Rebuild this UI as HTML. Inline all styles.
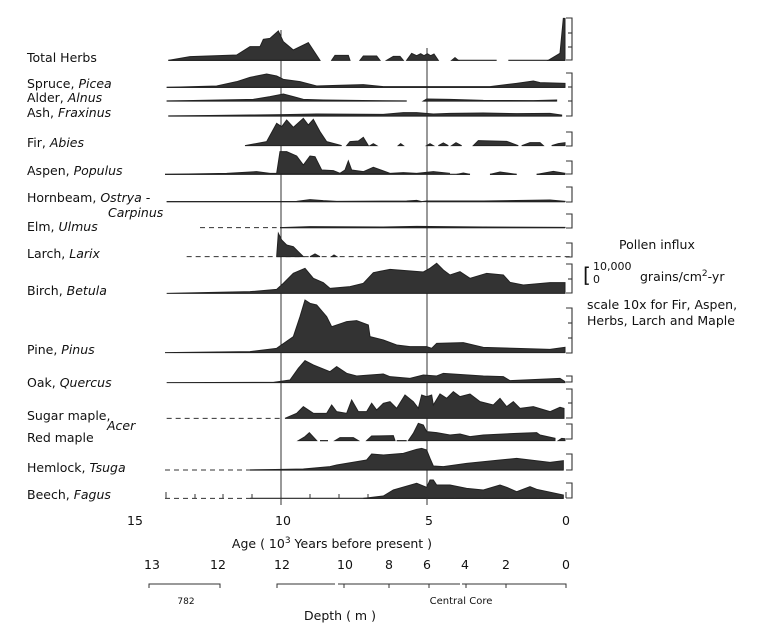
<!DOCTYPE html>
<html><head><meta charset="utf-8"><style>
body{margin:0;background:#fff;}
svg{display:block;font-family:"DejaVu Sans","Liberation Sans",sans-serif;}
text{fill:#111;font-size:12.5px;}
.f{fill:#333;stroke:#222;stroke-width:1;vector-effect:non-scaling-stroke;}
.l{stroke:#222;stroke-width:1.2;fill:none;vector-effect:non-scaling-stroke;}
.d{stroke:#333;stroke-width:1;fill:none;stroke-dasharray:5 4;vector-effect:non-scaling-stroke;}
</style></head><body>
<svg width="760" height="630" viewBox="0 0 760 630">
<rect width="760" height="630" fill="#fff"/>
<line x1="281" y1="30" x2="281" y2="500" stroke="#333" stroke-width="1"/>
<line x1="427" y1="48" x2="427" y2="500" stroke="#333" stroke-width="1"/>
<g transform="translate(150,0) scale(0.33333)">
<polygon class="f" points="55,181 120,170 260,165 300,140 330,140 340,118 360,115 385,93 400,125 430,150 475,128 510,181"/>
<polygon class="f" points="545,181 555,166 595,166 600,181"/>
<polygon class="f" points="630,181 640,168 680,168 690,181"/>
<polygon class="f" points="710,181 730,169 750,169 760,181"/>
<polygon class="f" points="770,181 785,160 800,167 812,161 822,167 832,161 842,167 852,162 865,181"/>
<polygon class="f" points="905,181 915,173 925,181"/>
<polygon class="f" points="1195,181 1230,160 1240,55 1245,55 1245,181"/>
<polyline class="l" points="55,181 510,181"/><polyline class="l" points="910,181 1040,181"/><polyline class="l" points="1075,181 1245,181"/>
<polygon class="f" points="50,262 200,258 260,245 300,232 350,222 380,228 400,238 450,245 500,258 560,256 640,254 700,260 1020,260 1100,250 1150,243 1170,248 1245,250 1245,262"/>
<polyline class="l" points="50,262 1245,262"/>
<polygon class="f" points="50,303 310,298 360,290 400,282 430,290 460,298 520,300 770,303"/>
<polygon class="f" points="820,303 830,297 900,298 1000,301 1150,302 1220,300 1220,303"/>
<polyline class="l" points="50,303 770,303"/><polyline class="l" points="820,303 1220,303"/>
<polygon class="f" points="55,348 300,345 400,344 500,342 700,343 760,338 800,338 850,342 900,340 1000,339 1100,341 1200,340 1235,345 1235,348"/>
<polyline class="l" points="55,348 1235,348"/>
<polygon class="f" points="285,437 350,425 380,370 395,380 410,360 430,382 460,355 475,375 490,358 510,395 530,425 575,437"/>
<polygon class="f" points="590,437 600,425 625,423 640,412 655,437"/>
<polygon class="f" points="660,437 670,431 680,437"/>
<polygon class="f" points="745,437 752,431 760,437"/>
<polygon class="f" points="830,437 840,431 850,437"/>
<polygon class="f" points="865,437 880,429 895,437"/>
<polygon class="f" points="905,437 918,428 935,437"/>
<polygon class="f" points="970,437 985,422 1070,424 1105,437"/>
<polygon class="f" points="1115,437 1140,428 1170,428 1180,437"/>
<polygon class="f" points="1205,437 1225,431 1245,428 1245,437"/>
<polygon class="f" points="45,523 230,520 320,515 360,520 380,520 390,455 410,455 440,468 460,495 480,468 495,470 515,510 550,512 570,520 585,510 595,483 605,510 640,515 670,502 720,520 760,518 800,520 850,515 900,520"/>
<polygon class="f" points="920,523 940,519 960,523"/>
<polygon class="f" points="1020,523 1050,516 1100,523"/>
<polygon class="f" points="1160,523 1210,514 1245,520 1245,523"/>
<polyline class="l" points="45,523 960,523"/><polyline class="l" points="1020,523 1100,523"/><polyline class="l" points="1160,523 1245,523"/>
<polygon class="f" points="50,605 440,604 480,599 520,602 560,604 770,603 800,601 815,605 830,603 1000,603 1200,600 1245,604 1245,605"/>
<polyline class="l" points="50,605 815,605"/><polyline class="l" points="830,605 1245,605"/>
<line class="d" x1="150" y1="683" x2="380" y2="683"/>
<polygon class="f" points="390,683 480,680 700,681 800,679 1000,681 1245,682 1245,683"/>
<polyline class="l" points="390,683 1245,683"/>
</g>
<g transform="translate(150,250) scale(0.33333)">
<line class="d" x1="110" y1="20" x2="1260" y2="20"/>
<polygon class="f" points="380,20 385,-50 395,-30 410,-15 430,-10 445,5 460,20"/>
<polygon class="f" points="480,20 495,12 510,20"/>
<polygon class="f" points="545,20 552,15 560,20"/>
<polygon class="f" points="50,130 300,125 380,118 400,100 430,70 465,55 490,85 520,98 540,115 600,110 640,100 670,68 720,58 820,66 840,55 860,40 880,60 900,75 930,65 960,85 1010,70 1060,75 1080,97 1120,105 1200,98 1245,98 1245,130"/>
<polygon class="f" points="45,308 300,305 380,295 430,260 450,200 465,150 480,160 500,165 530,200 545,230 575,220 590,215 620,212 655,225 660,260 700,270 740,285 780,290 830,290 845,295 860,280 940,278 1000,292 1100,295 1200,298 1245,292 1245,308"/>
<polygon class="f" points="50,398 370,397 420,390 445,355 465,332 490,345 540,365 560,350 590,370 620,378 660,375 700,372 720,380 780,385 820,375 860,378 880,370 1000,378 1060,380 1080,392 1230,385 1245,395 1245,398"/>
<line class="d" x1="50" y1="505" x2="395" y2="505"/>
<polygon class="f" points="405,505 440,490 460,470 490,490 530,490 545,465 560,485 590,490 605,450 625,485 650,485 665,460 680,480 700,460 720,455 740,475 765,435 790,455 805,475 815,435 830,440 845,435 850,465 870,432 890,445 910,425 930,440 960,432 990,455 1030,465 1050,445 1070,470 1090,455 1110,475 1150,470 1200,485 1230,472 1242,475 1242,505"/>
<polygon class="f" points="445,572 465,560 478,548 500,572"/>
<line class="l" x1="510" y1="572" x2="545" y2="572" stroke-dasharray="8 8"/>
<polygon class="f" points="555,572 570,563 610,563 625,572"/>
<polygon class="f" points="650,572 665,558 730,557 735,572"/>
<line class="l" x1="740" y1="572" x2="770" y2="572"/>
<polygon class="f" points="775,572 790,550 805,520 820,525 830,545 860,548 900,555 930,552 960,560 1000,555 1100,550 1160,548 1170,555 1215,565 1215,572"/>
<polygon class="f" points="1225,572 1235,565 1245,566 1245,572"/>
<line class="d" x1="45" y1="660" x2="300" y2="660"/>
<polygon class="f" points="300,660 460,657 540,650 560,645 650,630 665,612 700,615 760,610 800,598 815,595 830,600 840,625 850,648 880,650 950,640 1050,630 1100,625 1200,637 1240,632 1240,660"/>
<polyline class="l" points="300,660 1240,660"/>
<line class="d" x1="45" y1="745" x2="300" y2="745"/>
<polygon class="f" points="640,745 700,738 730,720 800,700 830,712 840,690 850,690 860,705 900,705 950,715 1000,720 1050,705 1070,712 1100,725 1140,710 1160,718 1240,735 1240,745"/>
<polyline class="l" points="300,745 1240,745"/>
</g>
<g stroke="#333" stroke-width="1">
<line x1="166" y1="498" x2="166" y2="492"/><line x1="195" y1="498" x2="195" y2="494"/><line x1="223" y1="498" x2="223" y2="494"/><line x1="252" y1="498" x2="252" y2="494"/><line x1="281" y1="498" x2="281" y2="505"/>
<line x1="310" y1="498" x2="310" y2="494"/><line x1="339" y1="498" x2="339" y2="494"/><line x1="368" y1="498" x2="368" y2="494"/><line x1="397" y1="498" x2="397" y2="494"/><line x1="427" y1="498" x2="427" y2="505"/>
<line x1="455" y1="498" x2="455" y2="494"/><line x1="482" y1="498" x2="482" y2="494"/><line x1="510" y1="498" x2="510" y2="494"/><line x1="538" y1="498" x2="538" y2="494"/><line x1="566" y1="498" x2="566" y2="492"/>
</g>
<g stroke="#333" stroke-width="1.1" fill="none">
<polyline points="566,18 572,18 572,60 566,60"/><line x1="572" y1="33" x2="568" y2="33"/><line x1="572" y1="47" x2="568" y2="47"/>
<polyline points="566,73 572,73 572,116 566,116"/><line x1="572" y1="87" x2="568" y2="87"/><line x1="572" y1="101" x2="568" y2="101"/>
<polyline points="566,132 572,132 572,146 566,146"/>
<polyline points="566,161 572,161 572,174 566,174"/>
<polyline points="566,187 572,187 572,202 566,202"/>
<polyline points="566,214 572,214 572,228 566,228"/>
<polyline points="566,243 572,243 572,257 566,257"/>
<polyline points="566,264 572,264 572,293 566,293"/><line x1="572" y1="279" x2="568" y2="279"/>
<polyline points="566,308 572,308 572,353 566,353"/><line x1="572" y1="323" x2="568" y2="323"/><line x1="572" y1="338" x2="568" y2="338"/>
<polyline points="566,376 572,376 572,382 566,382"/>
<polyline points="566,389 572,389 572,418 566,418"/><line x1="572" y1="403" x2="568" y2="403"/>
<polyline points="566,424 572,424 572,439 566,439"/>
<polyline points="566,454 572,454 572,470 566,470"/>
<polyline points="566,483 572,483 572,498 566,498"/>
</g>
<g>
<text x="27" y="62">Total Herbs</text>
<text x="27" y="88">Spruce, <tspan font-style="italic">Picea</tspan></text>
<text x="27" y="102">Alder, <tspan font-style="italic">Alnus</tspan></text>
<text x="27" y="117">Ash, <tspan font-style="italic">Fraxinus</tspan></text>
<text x="27" y="147">Fir, <tspan font-style="italic">Abies</tspan></text>
<text x="27" y="175">Aspen, <tspan font-style="italic">Populus</tspan></text>
<text x="27" y="202">Hornbeam, <tspan font-style="italic">Ostrya -</tspan></text>
<text x="108" y="217" font-style="italic">Carpinus</text>
<text x="27" y="231">Elm, <tspan font-style="italic">Ulmus</tspan></text>
<text x="27" y="258">Larch, <tspan font-style="italic">Larix</tspan></text>
<text x="27" y="295">Birch, <tspan font-style="italic">Betula</tspan></text>
<text x="27" y="354">Pine, <tspan font-style="italic">Pinus</tspan></text>
<text x="27" y="387">Oak, <tspan font-style="italic">Quercus</tspan></text>
<text x="27" y="420">Sugar maple,</text>
<text x="107" y="430" font-style="italic">Acer</text>
<text x="27" y="442">Red maple</text>
<text x="27" y="472">Hemlock, <tspan font-style="italic">Tsuga</tspan></text>
<text x="27" y="499">Beech, <tspan font-style="italic">Fagus</tspan></text>
</g>
<text x="619" y="249">Pollen influx</text>
<text x="583" y="282" style="font-size:20px">[</text>
<text x="593" y="270" style="font-size:11px">10,000</text>
<text x="593" y="283" style="font-size:11px">0</text>
<text x="640" y="281">grains/cm<tspan dy="-5" style="font-size:9px">2</tspan><tspan dy="5">-yr</tspan></text>
<text x="587" y="309">scale 10x for Fir, Aspen,</text>
<text x="587" y="325">Herbs, Larch and Maple</text>
<g text-anchor="middle">
<text x="135" y="525">15</text><text x="283" y="525">10</text><text x="429" y="525">5</text><text x="566" y="525">0</text>
<text x="332" y="548">Age ( 10<tspan dy="-5" style="font-size:9px">3</tspan><tspan dy="5"> Years before present )</tspan></text>
<text x="152" y="569">13</text><text x="218" y="569">12</text><text x="282" y="569">12</text><text x="345" y="569">10</text><text x="389" y="569">8</text><text x="427" y="569">6</text><text x="465" y="569">4</text><text x="506" y="569">2</text><text x="566" y="569">0</text>
<text x="186" y="604" style="font-size:9px">782</text>
<text x="461" y="604" style="font-size:10px">Central Core</text>
<text x="340" y="620">Depth ( m )</text>
</g>
<g stroke="#333" stroke-width="1" fill="none">
<polyline points="149,588 149,584 220,584 220,588"/>
<polyline points="277,588 277,584 335,584"/>
<polyline points="338,584 460,584"/><polyline points="462,584 566,584 566,588"/>
<line x1="344" y1="584" x2="344" y2="588"/><line x1="389" y1="584" x2="389" y2="588"/><line x1="429" y1="584" x2="429" y2="588"/><line x1="466" y1="584" x2="466" y2="588"/><line x1="506" y1="584" x2="506" y2="588"/>
</g>
</svg>
</body></html>
